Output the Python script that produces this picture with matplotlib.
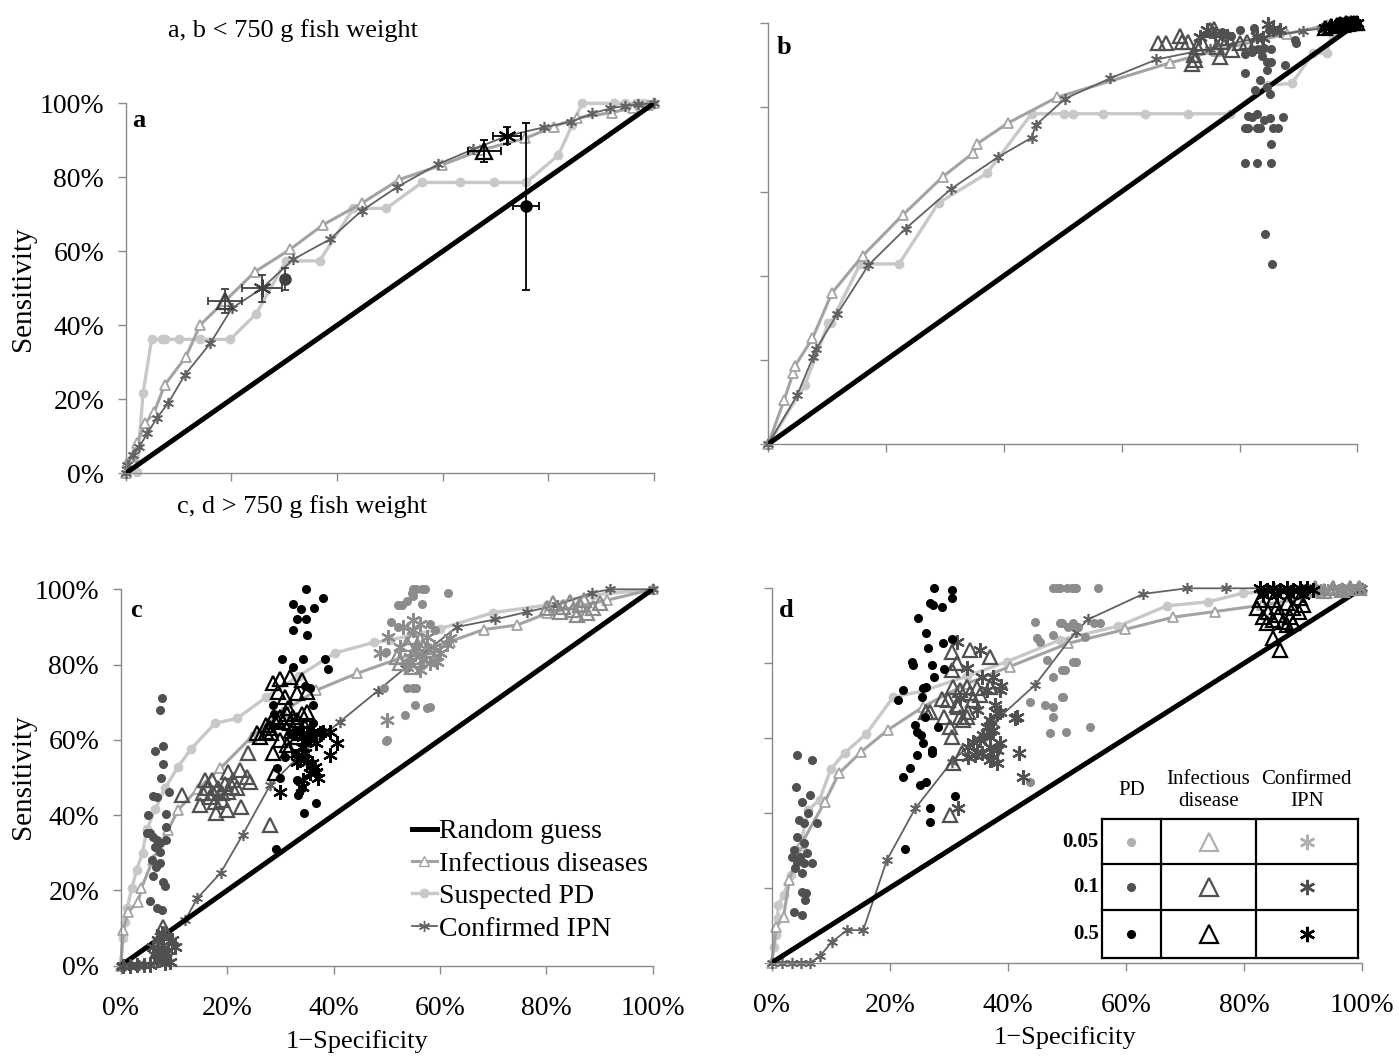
import matplotlib
matplotlib.use("Agg")
from matplotlib import pyplot
from matplotlib.lines import Line2D

pyplot.rcParams["font.family"] = ["Liberation Serif", "DejaVu Serif"]

# ---------------- panel a (< 750 g) ----------------
a_pd_x = [0, 2.1, 3.3, 4.9, 6.8, 7.4, 10.1, 14.1, 19.8, 24.7, 30.3, 36.7, 43.1, 49.3, 56.1, 63.3, 69.8, 75.8, 81.9, 84.5, 86.4, 92.5, 94.5, 96.5, 98.0, 100]
a_pd_y = [0, 0.4, 21.8, 36.2, 36.2, 36.2, 36.2, 36.2, 36.2, 43.1, 57.4, 57.4, 71.6, 71.6, 78.6, 78.6, 78.6, 78.6, 86.0, 94.1, 100, 100, 100, 100, 100, 100]
a_inf_x = [0, 0.2, 1.1, 2.1, 3.7, 5.4, 7.4, 11.4, 14.1, 18.8, 24.5, 31.1, 37.3, 44.7, 51.8, 59.8, 67.1, 75.6, 81.0, 85.4, 92.0, 96.0, 98.9, 100]
a_inf_y = [0, 2.7, 4.5, 8.1, 13.5, 16.6, 23.9, 31.5, 40.1, 46.6, 54.5, 60.5, 67.1, 73.0, 79.4, 83.3, 87.3, 90.5, 93.7, 96.0, 97.5, 98.8, 99.5, 100]
a_ipn_x = [0, 0.2, 1.4, 2.6, 4.1, 5.9, 8.1, 11.2, 16.0, 20.1, 25.8, 31.7, 38.6, 44.7, 51.3, 59.2, 65.8, 72.2, 79.1, 84.3, 88.3, 91.7, 94.5, 97.0, 100]
a_ipn_y = [0, 2.2, 4.9, 7.2, 10.8, 14.9, 19.1, 26.6, 35.1, 44.6, 50.0, 57.8, 63.2, 71.0, 77.3, 83.6, 87.6, 91.2, 93.5, 95.0, 97.3, 98.6, 99.3, 99.7, 100]
# mean points with error bars: level 0.1 (triangle, asterisk, dot) then level 0.5
a_err_x = [18.8, 25.8, 30.2, 67.9, 72.2, 75.8]
a_err_y = [46.6, 50.0, 52.5, 87.1, 91.2, 72.2]
a_err_dx = [3.2, 3.7, 0.0, 3.1, 2.7, 2.4]
a_err_dy = [3.2, 3.7, 3.0, 2.9, 2.3, 22.6]
a_err_kind = ["tri", "ast", "dot", "tri", "ast", "dot"]
a_err_level = [0.1, 0.1, 0.1, 0.5, 0.5, 0.5]

# ---------------- panel b (< 750 g) ----------------
b_pd_x = [0, 6.2, 10.2, 10.6, 15.6, 22.2, 28.9, 37.1, 44.7, 50.2, 51.7, 56.8, 63.9, 71.3, 78.4, 84.6, 88.9, 92.5, 94.8, 95.7, 100]
b_pd_y = [0, 14.0, 28.7, 28.7, 42.8, 42.8, 57.3, 64.3, 78.5, 78.5, 78.5, 78.5, 78.5, 78.5, 78.5, 85.3, 85.7, 92.9, 92.9, 97.7, 100]
b_inf_x = [0, 2.7, 4.2, 4.5, 7.5, 10.8, 16.0, 22.8, 29.6, 34.8, 35.5, 40.7, 49.0, 68.2, 76.0, 88.0, 94.8, 100]
b_inf_y = [0, 10.5, 16.8, 18.5, 25.1, 35.9, 44.7, 54.4, 63.5, 69.2, 71.4, 76.3, 82.4, 90.6, 93.5, 97.5, 99.5, 100]
b_ipn_x = [0, 4.9, 7.6, 8.1, 11.7, 17.0, 23.3, 31.1, 39.0, 44.7, 45.4, 50.4, 58.0, 65.9, 75.0, 83.0, 90.8, 94.0, 100]
b_ipn_y = [0, 11.6, 20.7, 22.5, 30.9, 42.5, 51.2, 60.7, 68.2, 72.8, 75.8, 82.1, 86.9, 91.4, 94.0, 96.5, 98.2, 98.8, 100]
b_dot1_x = [80.9, 82.1, 83.2, 84.2, 85.3, 83.8, 84.6, 85.3, 87.7, 80.9, 84.6, 83.5, 82.6, 84.6, 85.2, 81.5, 82.2, 83.0, 84.2, 85.2, 87.4, 80.9, 81.5, 82.9, 83.5, 85.7, 86.6, 85.3, 80.9, 83.0, 85.3, 84.4, 85.5, 89.6, 89.4, 75.5, 77.0, 78.5, 80.0, 82.5, 85.0]
b_dot1_y = [92.8, 93.2, 93.8, 94.2, 94.0, 92.2, 90.8, 90.8, 90.0, 88.2, 88.8, 86.5, 84.1, 84.9, 83.1, 77.9, 77.7, 78.5, 77.0, 77.6, 77.7, 75.0, 75.0, 75.0, 75.0, 75.0, 75.0, 71.4, 66.7, 66.7, 66.7, 49.9, 42.8, 95.2, 96.0, 97.5, 98.0, 97.0, 98.5, 99.0, 98.5]
b_tri1_x = [66.2, 67.6, 69.9, 70.2, 71.3, 72.2, 71.9, 72.4, 72.7, 73.6, 75.0, 75.6, 76.1, 76.7, 77.0, 78.1, 78.7, 80.1, 81.2, 82.9]
b_tri1_y = [95.2, 95.3, 97.1, 95.6, 95.6, 92.4, 90.4, 91.2, 94.4, 95.2, 98.3, 98.7, 94.4, 92.0, 95.6, 96.4, 93.6, 95.2, 95.6, 96.0]
b_ast1_x = [73.3, 74.4, 75.8, 77.8, 82.9, 84.0, 84.9, 85.7, 86.9]
b_ast1_y = [96.8, 98.3, 97.5, 97.1, 97.1, 96.4, 99.9, 98.7, 98.3]
b_top5_x = [94.5, 95.5, 96.5, 97.0, 97.5, 98.0, 98.5, 99.0, 99.5, 100]
b_top5_y = [99.0, 99.3, 99.5, 99.8, 99.6, 100, 99.8, 100, 100, 100]

# ---------------- panel c (> 750 g) ----------------
c_pd_x = [0, 0.4, 0.8, 1.2, 2.1, 3.0, 4.1, 4.9, 6.5, 8.3, 10.8, 13.2, 17.7, 21.9, 27.4, 33.5, 40.3, 47.6, 50.6, 60.0, 70.0, 80.1, 88.8, 100]
c_pd_y = [0, 7.3, 11.7, 15.2, 20.6, 25.5, 30.0, 36.2, 41.5, 47.1, 52.9, 57.5, 64.4, 65.7, 71.4, 77.0, 83.1, 85.9, 86.5, 89.5, 93.8, 95.8, 98.5, 100]
c_inf_x = [0, 0.5, 1.4, 3.3, 3.9, 6.0, 8.9, 10.8, 14.5, 18.7, 24.6, 30.5, 36.8, 44.5, 52.5, 61.9, 68.2, 74.5, 80.1, 86.0, 91.4, 100]
c_inf_y = [0, 9.5, 14.3, 17.0, 20.6, 28.0, 36.0, 41.4, 47.0, 52.4, 60.8, 67.5, 73.2, 77.7, 81.7, 86.1, 89.3, 90.5, 93.6, 95.5, 97.1, 100]
c_ipn_x = [0, 3.5, 7.0, 8.5, 12.1, 14.4, 18.8, 22.9, 28.1, 34.5, 41.2, 48.3, 53.4, 63.2, 70.4, 76.4, 82.0, 88.6, 92.0, 100]
c_ipn_y = [0, 0.3, 1.0, 8.5, 12.1, 17.9, 24.7, 34.7, 48.0, 57.0, 64.8, 73.0, 79.0, 90.0, 92.0, 94.0, 95.8, 99.1, 100, 100]
c_dot1_x = [7.7, 7.3, 6.4, 8.0, 7.9, 7.6, 6.0, 6.8, 5.2, 9.1, 8.5, 5.5, 6.1, 6.9, 7.4, 6.4, 7.3, 5.8, 7.4, 6.6, 6.1, 8.0, 8.3, 8.6, 5.6, 6.9, 7.7, 4.9, 8.6]
c_dot1_y = [71.0, 67.9, 57.1, 58.4, 53.6, 50.0, 45.1, 44.9, 40.0, 46.2, 40.2, 35.2, 34.3, 33.4, 32.5, 31.6, 30.3, 28.1, 27.2, 26.3, 23.8, 22.3, 21.2, 33.4, 17.3, 15.2, 14.8, 35.2, 36.9]
c_dot5_x = [34.8, 32.3, 33.9, 36.4, 38.1, 33.2, 34.8, 32.4, 35.0, 30.3, 34.2, 38.4, 39.0, 32.4, 28.7, 28.8, 34.6, 36.2, 35.6, 35.5, 31.8, 35.0, 30.9, 34.6, 29.3, 29.9, 33.1, 34.0, 33.4, 36.8, 34.5, 29.2, 36.2, 32.8]
c_dot5_y = [100.0, 96.1, 94.7, 94.9, 97.6, 92.0, 92.0, 89.2, 87.8, 81.4, 81.4, 81.4, 78.7, 79.3, 69.2, 66.9, 74.3, 69.2, 73.9, 63.0, 61.7, 59.5, 55.5, 55.5, 52.4, 49.8, 49.3, 47.1, 45.3, 43.3, 40.5, 30.9, 64.4, 56.4]
c_tri1_x = [11.5, 14.9, 15.8, 17.1, 15.5, 16.8, 17.7, 18.0, 19.0, 19.6, 20.2, 21.2, 21.8, 22.4, 23.7, 24.3, 22.7, 19.9, 18.3, 20.2, 20.9, 16.2, 17.4, 19.0, 24.0, 28.1, 8.0, 8.6, 7.1]
c_tri1_y = [45.3, 42.7, 49.3, 49.3, 45.8, 44.9, 43.6, 40.5, 45.8, 48.4, 51.5, 49.3, 47.1, 52.0, 50.2, 48.9, 42.2, 41.4, 47.1, 46.2, 47.5, 47.1, 45.8, 44.0, 56.4, 37.4, 10.4, 8.6, 4.2]
c_tri5_x = [25.6, 26.2, 27.4, 28.1, 28.7, 29.3, 29.9, 30.6, 31.2, 31.5, 28.7, 29.6, 29.9, 31.8, 30.9, 33.1, 34.0, 35.0, 31.8, 32.4, 33.1, 34.0, 34.6, 33.1, 31.2, 29.9, 31.5, 28.7, 35.0, 27.4, 28.2, 32.1, 33.7, 29.0]
c_tri5_y = [61.7, 60.8, 62.2, 63.1, 65.7, 65.3, 66.1, 64.8, 67.0, 68.4, 75.0, 72.8, 76.3, 76.8, 71.4, 72.4, 75.9, 72.8, 64.4, 66.1, 65.3, 67.0, 63.5, 60.8, 58.6, 59.9, 57.3, 56.4, 67.5, 63.9, 61.7, 62.4, 61.7, 51.1]
c_ast5_x = [34.3, 35.0, 33.7, 35.6, 36.2, 37.5, 36.8, 34.0, 34.6, 33.1, 33.7, 35.0, 35.9, 36.5, 35.6, 34.3, 34.0, 29.9, 39.3, 40.6, 39.3, 38.1, 37.1, 36.7]
c_ast5_y = [60.8, 61.7, 62.6, 60.8, 62.2, 61.7, 59.1, 58.2, 56.4, 54.2, 54.6, 54.2, 53.8, 52.9, 51.1, 49.3, 47.5, 46.2, 56.0, 59.1, 62.2, 62.2, 49.8, 51.5]
c_ast1_x = [6.1, 7.1, 8.0, 8.9, 7.4, 8.6, 6.8, 9.6, 7.7, 8.3, 6.4, 9.3, 10.2, 0.5, 1.8, 3.0, 4.3, 5.6]
c_ast1_y = [5.0, 6.8, 5.5, 4.2, 3.3, 2.4, 1.5, 6.8, 8.6, 0.6, 2.8, 1.1, 5.0, 0, 0, 0.2, 0.1, 0.3]
c_dot05_x = [55.0, 55.6, 56.6, 57.2, 54.7, 55.0, 53.8, 52.8, 56.6, 50.9, 52.2, 58.1, 59.1, 61.6, 53.8, 55.0, 55.6, 53.4, 55.3, 57.5, 58.1, 50.0, 52.2, 49.9, 49.9, 49.5]
c_dot05_y = [100, 100, 100, 100, 98.9, 98.2, 96.9, 95.8, 96.1, 91.4, 90.0, 90.9, 89.2, 99.1, 73.7, 73.7, 73.7, 66.6, 69.2, 68.4, 68.6, 59.9, 95.8, 83.4, 59.8, 73.7]
c_ast05_x = [53.1, 50.3, 55.0, 56.3, 57.5, 58.8, 60.0, 61.3, 55.6, 54.4, 56.9, 58.1, 59.4, 52.5, 53.8, 56.3, 55.0, 61.9, 48.7, 50.0]
c_ast05_y = [90.0, 87.4, 89.2, 90.9, 87.4, 84.7, 83.0, 85.6, 84.7, 82.1, 81.2, 80.3, 80.7, 84.7, 79.4, 78.5, 91.8, 87.0, 83.0, 65.3]
c_tri05_x = [51.9, 55.0, 56.3, 57.5, 53.8, 55.3, 56.9, 52.5, 54.7, 55.9, 58.1, 81.3, 83.2, 85.1, 86.3, 87.6, 88.8, 90.1, 80.1, 84.5, 87.0, 82.6, 85.7]
c_tri05_y = [82.1, 87.4, 86.5, 83.9, 85.6, 82.1, 84.7, 80.3, 79.4, 81.2, 82.5, 96.3, 95.4, 94.5, 95.8, 93.6, 94.9, 96.3, 94.9, 96.7, 97.1, 94.0, 93.1]

# ---------------- panel d (> 750 g) ----------------
d_pd_x = [0, 0.4, 0.7, 1.0, 1.1, 2.0, 3.3, 4.8, 6.2, 8.1, 10.0, 12.4, 16.0, 20.6, 25.5, 33.0, 39.8, 48.8, 58.7, 66.9, 73.9, 79.8, 86.0, 100]
d_pd_y = [0, 4.3, 7.4, 11.9, 15.4, 18.1, 23.5, 31.0, 40.8, 43.5, 51.7, 56.1, 61.1, 71.0, 72.5, 76.5, 80.4, 86.2, 89.9, 95.3, 96.4, 98.7, 99.3, 100]
d_inf_x = [0, 0.8, 2.0, 3.0, 5.1, 9.0, 11.4, 15.2, 19.7, 25.7, 33.0, 40.3, 50.2, 59.8, 68.0, 75.1, 83.0, 100]
d_inf_y = [0, 9.6, 12.3, 22.1, 31.9, 43.0, 50.6, 56.4, 62.2, 68.4, 74.5, 79.1, 85.3, 89.0, 92.3, 93.8, 95.5, 100]
d_ipn_x = [0, 1.8, 3.5, 5.0, 6.5, 8.2, 10.2, 12.8, 15.5, 19.5, 24.3, 30.5, 37.5, 44.6, 51.5, 53.6, 62.9, 70.3, 77.0, 85.0, 100]
d_ipn_y = [0, 0, 0, 0, 0, 1.8, 5.6, 8.7, 8.7, 27.4, 41.2, 53.7, 64.0, 74.2, 88.4, 91.7, 98.5, 100, 100, 100, 100]
d_dot1_x = [4.2, 6.8, 4.1, 6.5, 5.1, 4.7, 5.4, 6.2, 7.6, 4.2, 5.4, 3.7, 3.4, 4.8, 4.2, 3.9, 5.4, 5.9, 5.1, 6.8, 5.1, 5.8, 5.6, 3.7, 5.1]
d_dot1_y = [55.5, 54.1, 47.0, 44.8, 43.0, 38.1, 37.4, 39.9, 37.2, 33.7, 31.9, 30.1, 28.3, 28.3, 27.0, 25.2, 26.5, 29.2, 23.9, 26.7, 19.0, 18.5, 16.7, 13.6, 12.7]
d_dot5_x = [27.4, 30.5, 30.5, 26.8, 27.3, 28.8, 24.8, 26.2, 29.0, 26.5, 30.5, 23.7, 24.0, 27.1, 29.1, 27.4, 26.2, 21.4, 22.3, 25.6, 25.4, 28.2, 24.3, 24.6, 25.2, 25.7, 27.1, 27.1, 24.6, 23.4, 22.3, 26.2, 25.1, 26.8, 26.8, 31.0, 22.6, 26.0]
d_dot5_y = [100.0, 99.5, 97.3, 96.2, 95.5, 95.1, 92.0, 88.1, 85.5, 84.0, 86.4, 80.4, 79.5, 79.5, 78.4, 76.4, 73.7, 70.2, 72.8, 73.3, 71.0, 63.0, 63.5, 61.7, 60.8, 58.6, 56.8, 56.0, 55.5, 51.9, 49.7, 48.3, 47.5, 41.2, 37.7, 44.5, 30.3, 65.7]
d_tri1_x = [30.5, 33.6, 30.5, 31.3, 37.0, 30.7, 28.8, 29.9, 31.9, 33.0, 33.6, 34.7, 34.1, 35.3, 37.0, 26.2, 26.8, 29.1, 30.2, 30.5, 33.0, 31.9, 32.4, 33.3, 31.3, 32.2, 30.7, 30.2, 31.5]
d_tri1_y = [83.1, 83.5, 78.2, 80.0, 81.7, 73.7, 70.4, 70.2, 72.8, 73.7, 72.0, 73.3, 70.2, 71.5, 73.7, 67.0, 67.0, 65.7, 63.0, 60.4, 65.7, 65.7, 64.8, 67.0, 68.8, 55.9, 53.3, 39.4, 68.4]
d_ast1_x = [31.3, 35.3, 33.0, 35.6, 37.5, 38.9, 37.8, 38.7, 38.1, 37.0, 36.4, 37.5, 35.8, 37.0, 35.3, 34.1, 33.3, 34.7, 35.6, 37.0, 38.1, 38.7, 37.5, 37.0, 38.1, 33.3, 34.4, 41.5, 41.2, 41.8, 42.6, 31.6, 31.9, 38.7, 36.4, 34.7]
d_ast1_y = [85.7, 83.5, 78.6, 76.4, 76.4, 73.9, 68.8, 67.0, 66.6, 64.8, 63.0, 62.2, 60.8, 60.4, 59.5, 59.0, 57.7, 56.4, 56.0, 57.7, 56.8, 58.6, 55.0, 54.1, 53.3, 55.0, 55.5, 65.7, 65.3, 55.9, 49.7, 41.2, 70.6, 72.9, 72.9, 67.5]
d_dot05_x = [44.6, 44.9, 45.4, 46.6, 47.7, 49.1, 50.2, 51.1, 49.1, 47.7, 49.1, 47.7, 46.3, 43.7, 47.1, 49.9, 47.7, 51.1, 43.7, 47.7, 48.3, 48.8, 50.0, 51.1, 50.8, 51.6, 55.3, 48.8, 51.1, 51.9, 54.5, 55.6, 53.0, 51.6, 49.7, 49.4, 53.9]
d_dot05_y = [91.1, 86.6, 85.7, 80.8, 87.5, 90.8, 89.7, 90.1, 78.2, 76.4, 71.0, 68.4, 68.8, 69.7, 61.3, 61.7, 65.7, 80.4, 48.3, 100, 100, 100, 100, 100, 100, 100, 100, 90.6, 90.6, 89.7, 90.6, 90.6, 87.1, 80.4, 78.2, 71.0, 63.0]
d_tri5_x = [82.1, 83.2, 84.1, 84.9, 85.8, 86.6, 87.8, 88.3, 89.2, 90.0, 82.7, 84.9, 87.2, 89.5, 85.5, 88.3, 84.9, 86.1, 83.8, 87.2]
d_tri5_y = [94.7, 92.4, 93.8, 91.5, 92.9, 91.1, 92.4, 90.7, 93.8, 95.5, 96.9, 96.9, 96.0, 97.3, 95.1, 94.7, 86.6, 83.5, 90.7, 90.2]
d_ast5_x = [82.7, 83.8, 84.9, 86.1, 87.2, 88.3, 89.5, 90.6, 91.7, 83.2, 85.5, 87.8, 90.0]
d_ast5_y = [100, 99.5, 100, 99.5, 100, 99.5, 100, 100, 99.5, 98.2, 98.2, 98.2, 98.2]
d_top05_x = [92.0, 93.5, 95.0, 96.5, 98.0, 99.5]
d_top05_y = [100, 99.3, 100, 99.5, 100, 100]

ticks = [0, 20, 40, 60, 80, 100]
tick_labels = ["0%", "20%", "40%", "60%", "80%", "100%"]
table_levels = ["0.05", "0.1", "0.5"]
table_headers = ["PD", "Infectious\ndisease", "Confirmed\nIPN"]

LEVEL_COLOR = {0.05: "#8c8c8c", 0.1: "#505050", 0.5: "#000000"}
PD_COLOR, INF_COLOR, IPN_COLOR = "#c8c8c8", "#a3a3a3", "#626262"
AST = (6, 2, 0)

W, H = 1399, 1059


def box(l, t, r, b):
    return [l / W, 1 - b / H, (r - l) / W, (b - t) / H]


def style_axes(ax, xlab, ylab):
    ax.set_xlim(0, 100)
    ax.set_ylim(0, 100)
    for s in ["top", "right"]:
        ax.spines[s].set_visible(False)
    for s in ["left", "bottom"]:
        ax.spines[s].set_color("#8a8a8a")
        ax.spines[s].set_linewidth(1.0)
    ax.set_xticks(ticks)
    ax.set_yticks(ticks)
    ax.set_xticklabels(tick_labels if xlab else [])
    ax.set_yticklabels(tick_labels if ylab else [])
    ax.tick_params(axis="both", direction="out", length=5.5, width=1.0, color="#8a8a8a", labelsize=20)
    ax.tick_params(axis="y", pad=10)
    ax.tick_params(axis="x", pad=16)
    ax.patch.set_alpha(0)


def draw_curves(ax, pd, inf, ipn):
    ax.plot(pd[0], pd[1], color=PD_COLOR, lw=2.4, marker="o", ms=6, mec=PD_COLOR, clip_on=False, zorder=2)
    ax.plot(inf[0], inf[1], color=INF_COLOR, lw=2.2, marker="^", ms=7.5, mfc="white", mec=INF_COLOR, mew=1.3, clip_on=False, zorder=2)
    ax.plot(ipn[0], ipn[1], color=IPN_COLOR, lw=1.3, marker=AST, ms=8, mec=IPN_COLOR, mew=1.2, clip_on=False, zorder=2)
    ax.plot([0, 100], [0, 100], color="black", lw=3.6, zorder=3)


def scatter(ax, x, y, kind, level):
    c = LEVEL_COLOR[level]
    if kind == "dot":
        ax.plot(x, y, ls="none", marker="o", ms=5.5, color=c, mec=c, clip_on=False, zorder=4)
    elif kind == "tri":
        ax.plot(x, y, ls="none", marker="^", ms=10, mfc="none", mec=c, mew=1.6, clip_on=False, zorder=4)
    else:
        ax.plot(x, y, ls="none", marker=AST, ms=10.5, mec=c, mew=1.6, clip_on=False, zorder=4)


fig = pyplot.figure(figsize=(W / 100, H / 100), dpi=100)

# panel a
ax_a = fig.add_axes(box(125.7, 103.3, 654.0, 473.3))
style_axes(ax_a, False, True)
draw_curves(ax_a, (a_pd_x, a_pd_y), (a_inf_x, a_inf_y), (a_ipn_x, a_ipn_y))
for x, y, dx, dy, k, lv in zip(a_err_x, a_err_y, a_err_dx, a_err_dy, a_err_kind, a_err_level):
    c = LEVEL_COLOR[lv] if lv == 0.5 else "#404040"
    ax_a.errorbar([x], [y], xerr=[dx] if dx else None, yerr=[dy], fmt="none", ecolor=c, elinewidth=1.3, capsize=3, capthick=1.3, zorder=5)
    if k == "dot":
        ax_a.plot([x], [y], marker="o", ms=8, color=c, zorder=6)
    elif k == "tri":
        ax_a.plot([x], [y], marker="^", ms=11, mfc="none", mec=c, mew=1.6, zorder=6)
    else:
        ax_a.plot([x], [y], marker=AST, ms=13, mec=c, mew=1.5, zorder=6)

# panel b
ax_b = fig.add_axes(box(768.3, 23.3, 1357.3, 444.0))
style_axes(ax_b, False, False)
draw_curves(ax_b, (b_pd_x, b_pd_y), (b_inf_x, b_inf_y), (b_ipn_x, b_ipn_y))
scatter(ax_b, b_dot1_x, b_dot1_y, "dot", 0.1)
scatter(ax_b, b_tri1_x, b_tri1_y, "tri", 0.1)
scatter(ax_b, b_ast1_x, b_ast1_y, "ast", 0.1)
scatter(ax_b, b_top5_x, b_top5_y, "tri", 0.5)
scatter(ax_b, b_top5_x, b_top5_y, "ast", 0.5)

# panel c
ax_c = fig.add_axes(box(120.7, 589.3, 652.7, 965.7))
style_axes(ax_c, True, True)
draw_curves(ax_c, (c_pd_x, c_pd_y), (c_inf_x, c_inf_y), (c_ipn_x, c_ipn_y))
scatter(ax_c, c_dot05_x, c_dot05_y, "dot", 0.05)
scatter(ax_c, c_ast05_x, c_ast05_y, "ast", 0.05)
scatter(ax_c, c_tri05_x, c_tri05_y, "tri", 0.05)
scatter(ax_c, c_dot1_x, c_dot1_y, "dot", 0.1)
scatter(ax_c, c_tri1_x, c_tri1_y, "tri", 0.1)
scatter(ax_c, c_ast1_x, c_ast1_y, "ast", 0.1)
scatter(ax_c, c_dot5_x, c_dot5_y, "dot", 0.5)
scatter(ax_c, c_tri5_x, c_tri5_y, "tri", 0.5)
scatter(ax_c, c_ast5_x, c_ast5_y, "ast", 0.5)

handles = [
    Line2D([], [], color="black", lw=3.6),
    Line2D([], [], color=INF_COLOR, lw=2.2, marker="^", ms=7, mfc="white", mec=INF_COLOR),
    Line2D([], [], color=PD_COLOR, lw=2.4, marker="o", ms=6, mec=PD_COLOR),
    Line2D([], [], color=IPN_COLOR, lw=1.3, marker=AST, ms=8, mec=IPN_COLOR),
]
ax_c.legend(handles, ["Random guess", "Infectious diseases", "Suspected PD", "Confirmed IPN"],
            loc="upper left", bbox_to_anchor=(0.547, 0.39), frameon=False, fontsize=20,
            handlelength=0.9, handletextpad=0.1, labelspacing=0.25, borderpad=0, borderaxespad=0)

# panel d
ax_d = fig.add_axes(box(771.7, 588.3, 1362.3, 962.7))
style_axes(ax_d, True, False)
draw_curves(ax_d, (d_pd_x, d_pd_y), (d_inf_x, d_inf_y), (d_ipn_x, d_ipn_y))
scatter(ax_d, d_dot05_x, d_dot05_y, "dot", 0.05)
scatter(ax_d, d_top05_x, d_top05_y, "tri", 0.05)
scatter(ax_d, d_top05_x, d_top05_y, "ast", 0.05)
scatter(ax_d, d_dot1_x, d_dot1_y, "dot", 0.1)
scatter(ax_d, d_tri1_x, d_tri1_y, "tri", 0.1)
scatter(ax_d, d_ast1_x, d_ast1_y, "ast", 0.1)
scatter(ax_d, d_dot5_x, d_dot5_y, "dot", 0.5)
scatter(ax_d, d_tri5_x, d_tri5_y, "tri", 0.5)
scatter(ax_d, d_ast5_x, d_ast5_y, "ast", 0.5)

# marker table (legend of significance levels) in panel d
col_edges = [1101.7, 1161.0, 1256.0, 1357.7]
row_edges = [819.3, 864.0, 910.0, 958.3]
tax = fig.add_axes(box(col_edges[0], row_edges[0], col_edges[-1], row_edges[-1]))
tax.set_xlim(col_edges[0], col_edges[-1])
tax.set_ylim(row_edges[-1], row_edges[0])
tax.axis("off")
tax.add_patch(pyplot.Rectangle((col_edges[0], row_edges[0]), col_edges[-1] - col_edges[0],
                               row_edges[-1] - row_edges[0], facecolor="white", edgecolor="none", zorder=0))
for xe in col_edges:
    tax.plot([xe, xe], [row_edges[0], row_edges[-1]], color="black", lw=1.6, clip_on=False)
for ye in row_edges:
    tax.plot([col_edges[0], col_edges[-1]], [ye, ye], color="black", lw=1.6, clip_on=False)
col_mid = [(col_edges[i] + col_edges[i + 1]) / 2 for i in range(3)]
row_mid = [(row_edges[i] + row_edges[i + 1]) / 2 for i in range(3)]
for lab, ym in zip(table_levels, row_mid):
    lv = float(lab)
    c = LEVEL_COLOR[lv] if lv != 0.05 else "#b0b0b0"
    tax.plot([col_mid[0]], [ym], marker="o", ms=5.5, color=c, clip_on=False)
    tax.plot([col_mid[1]], [ym], marker="^", ms=13, mfc="none", mec=c, mew=1.6, clip_on=False)
    tax.plot([col_mid[2]], [ym], marker=AST, ms=11, mec=c, mew=1.8, clip_on=False)
    tax.text(col_edges[0] - 3, ym, lab, ha="right", va="center", fontsize=15, fontweight="bold")
for lab, xm in zip(table_headers, col_mid):
    tax.text(xm, row_edges[0] - 29, lab, ha="center", va="center", fontsize=15, linespacing=1.25)

# texts
fig.text(293 / W, 1 - 36.7 / H, "a, b < 750 g fish weight", ha="center", va="baseline", fontsize=19)
fig.text(301.7 / W, 1 - 513 / H, "c, d > 750 g fish weight", ha="center", va="baseline", fontsize=19)
fig.text(23 / W, 1 - 288.3 / H, "Sensitivity", rotation=90, ha="center", va="center", fontsize=21)
fig.text(23 / W, 1 - 777 / H, "Sensitivity", rotation=90, ha="center", va="center", fontsize=21)
fig.text(357 / W, 1 - 1042 / H, "1\u2212Specificity", ha="center", va="center", fontsize=19)
fig.text(1065 / W, 1 - 1038 / H, "1\u2212Specificity", ha="center", va="center", fontsize=19)
for lab, x, y in [("a", 131.7, 126.7), ("b", 776.7, 54.3), ("c", 130, 616.7), ("d", 779.3, 616.7)]:
    fig.text(x / W, 1 - y / H, lab, ha="left", va="baseline", fontsize=19, fontweight="bold")

fig.savefig("out.png", dpi=100)
